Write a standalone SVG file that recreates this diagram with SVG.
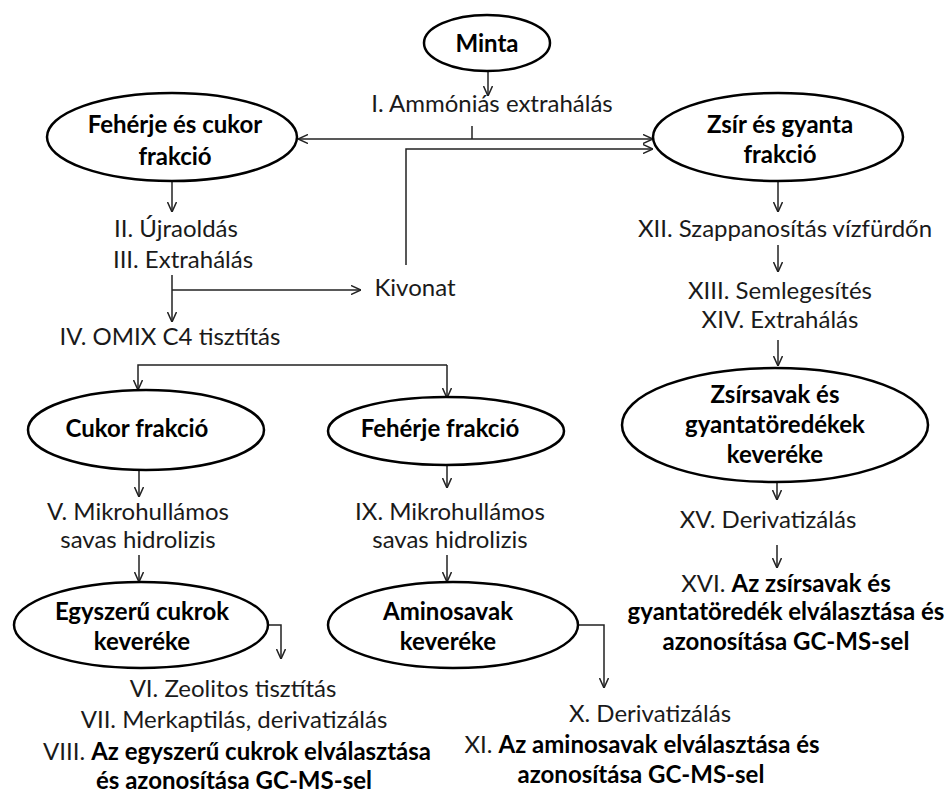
<svg xmlns="http://www.w3.org/2000/svg" width="950" height="794" viewBox="0 0 950 794">
<defs>
<marker id="arr" viewBox="0 0 10 10" refX="10" refY="5" markerWidth="10" markerHeight="10" markerUnits="userSpaceOnUse" orient="auto-start-reverse">
<path d="M0,0.5 L10,5 L0,9.5" fill="none" stroke="#222" stroke-width="1.5"/>
</marker>
</defs>
<style>
.n{fill:#fff;stroke:#000;stroke-width:2.5}
.t{font-family:Lato,"Liberation Sans",sans-serif;font-size:24px;fill:#1a1a1a;text-anchor:middle}
.b{font-weight:bold;fill:#000}
.c{fill:none;stroke:#222;stroke-width:1.5}
.a{marker-end:url(#arr)}
</style>
<rect width="950" height="794" fill="#fff"/>
<g id="connectors">
<line class="c a" x1="488" y1="72" x2="488" y2="96"/>
<line class="c" x1="472" y1="126" x2="472" y2="139"/>
<path class="c" d="M298,139 L653,139" marker-start="url(#arr)" marker-end="url(#arr)"/>
<path class="c a" d="M406,265 L406,149 L653,149"/>
<line class="c a" x1="172" y1="182" x2="172" y2="212"/>
<line class="c a" x1="172" y1="275" x2="172" y2="322"/>
<line class="c a" x1="172" y1="290" x2="361" y2="290"/>
<path class="c a" d="M447,365 L138,365 L138,390"/>
<line class="c a" x1="447" y1="365" x2="447" y2="398"/>
<line class="c a" x1="139" y1="470" x2="139" y2="497"/>
<line class="c a" x1="139" y1="555" x2="139" y2="582"/>
<line class="c a" x1="447" y1="465" x2="447" y2="488"/>
<line class="c a" x1="447" y1="555" x2="447" y2="582"/>
<path class="c a" d="M264,625 L281,625 L281,659"/>
<path class="c a" d="M578,625 L604,625 L604,688"/>
<line class="c a" x1="778" y1="182" x2="778" y2="212"/>
<line class="c a" x1="778" y1="245" x2="778" y2="272"/>
<line class="c a" x1="778" y1="340" x2="778" y2="366"/>
<line class="c a" x1="777" y1="482" x2="777" y2="500"/>
<line class="c a" x1="777" y1="545" x2="777" y2="568"/>
</g>
<g id="minta">
<ellipse class="n" cx="487" cy="43" rx="63" ry="28"/>
<text class="t b" x="487" y="52">Minta</text>
</g>
<g id="step-I"><text class="t" x="492" y="112">I. Ammóniás extrahálás</text></g>
<g id="feherje-cukor">
<ellipse class="n" cx="172" cy="137" rx="125" ry="44"/>
<text class="t b" x="175" y="133">Fehérje és cukor</text>
<text class="t b" x="175" y="165">frakció</text>
</g>
<g id="zsir-gyanta">
<ellipse class="n" cx="778" cy="137" rx="125" ry="44"/>
<text class="t b" x="780" y="133">Zsír és gyanta</text>
<text class="t b" x="780" y="163">frakció</text>
</g>
<g id="step-II-III">
<text class="t" x="176" y="237">II. Újraoldás</text>
<text class="t" x="183" y="268">III. Extrahálás</text>
</g>
<g id="kivonat"><text class="t" x="415" y="296">Kivonat</text></g>
<g id="step-IV"><text class="t" x="170" y="345">IV. OMIX C4 tisztítás</text></g>
<g id="step-XII"><text class="t" x="785" y="237">XII. Szappanosítás vízfürdőn</text></g>
<g id="step-XIII-XIV">
<text class="t" x="780" y="299">XIII. Semlegesítés</text>
<text class="t" x="780" y="328">XIV. Extrahálás</text>
</g>
<g id="zsirsavak">
<ellipse class="n" cx="775" cy="425" rx="153" ry="57"/>
<text class="t b" x="775" y="403">Zsírsavak és</text>
<text class="t b" x="775" y="433">gyantatöredékek</text>
<text class="t b" x="775" y="463">keveréke</text>
</g>
<g id="step-XV"><text class="t" x="768" y="528">XV. Derivatizálás</text></g>
<g id="step-XVI">
<text class="t" x="786" y="592">XVI. <tspan class="b">Az zsírsavak és</tspan></text>
<text class="t b" x="786" y="620">gyantatöredék elválasztása és</text>
<text class="t b" x="786" y="650">azonosítása GC-MS-sel</text>
</g>
<g id="cukor-frakcio">
<ellipse class="n" cx="146" cy="430" rx="118" ry="40"/>
<text class="t b" x="137" y="437">Cukor frakció</text>
</g>
<g id="feherje-frakcio">
<ellipse class="n" cx="446" cy="431" rx="118" ry="34"/>
<text class="t b" x="440" y="437">Fehérje frakció</text>
</g>
<g id="step-V">
<text class="t" x="138" y="520">V. Mikrohullámos</text>
<text class="t" x="138" y="548">savas hidrolizis</text>
</g>
<g id="step-IX">
<text class="t" x="450" y="520">IX. Mikrohullámos</text>
<text class="t" x="450" y="548">savas hidrolizis</text>
</g>
<g id="egyszeru">
<ellipse class="n" cx="141" cy="625" rx="127" ry="43"/>
<text class="t b" x="142" y="620">Egyszerű cukrok</text>
<text class="t b" x="142" y="650">keveréke</text>
</g>
<g id="aminosavak">
<ellipse class="n" cx="453" cy="625" rx="125" ry="43"/>
<text class="t b" x="448" y="620">Aminosavak</text>
<text class="t b" x="448" y="650">keveréke</text>
</g>
<g id="step-VI-VIII">
<text class="t" x="233" y="697">VI. Zeolitos tisztítás</text>
<text class="t" x="234" y="728">VII. Merkaptilás, derivatizálás</text>
<text class="t" x="237" y="760">VIII. <tspan class="b">Az egyszerű cukrok elválasztása</tspan></text>
<text class="t b" x="234" y="789">és azonosítása GC-MS-sel</text>
</g>
<g id="step-X-XI">
<text class="t" x="650" y="722">X. Derivatizálás</text>
<text class="t" x="642" y="753">XI. <tspan class="b">Az aminosavak elválasztása és</tspan></text>
<text class="t b" x="641" y="783">azonosítása GC-MS-sel</text>
</g>
</svg>
